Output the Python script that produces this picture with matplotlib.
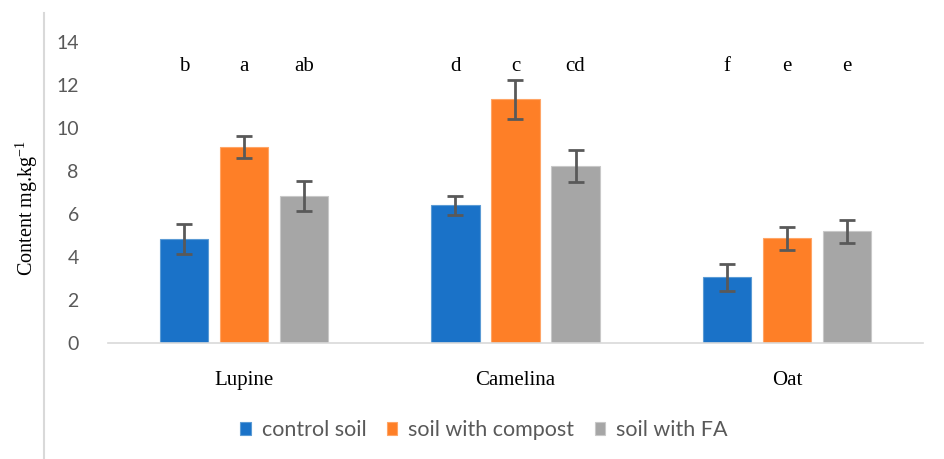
import numpy as np
import matplotlib.pyplot as plt
from matplotlib.lines import Line2D

# crop content, three soil treatments
crops = ["Lupine", "Camelina", "Oat"]
series = ["control soil", "soil with compost", "soil with FA"]

control = [4.82, 6.40, 3.05]
compost = [9.12, 11.33, 4.87]
fa = [6.84, 8.23, 5.19]

control_err = [0.70, 0.43, 0.62]
compost_err = [0.50, 0.90, 0.54]
fa_err = [0.70, 0.75, 0.53]

letters = [["b", "a", "ab"], ["d", "c", "cd"], ["f", "e", "e"]]

colors = ["#1A72C8", "#FE7F27", "#A6A6A6"]
edges = ["#5B9BD5", "#FFA566", "#C8C8C8"]

fig = plt.figure(figsize=(9.45, 4.59), dpi=100)
ax = fig.add_axes([0.1143, 0.2527, 0.8624, 0.6558])

x = np.arange(len(crops))
step = 0.221
width = 0.177
values = [control, compost, fa]
errs = [control_err, compost_err, fa_err]

for i in range(3):
    ax.bar(x + (i - 1) * step, values[i], width, color=colors[i],
           edgecolor=edges[i], linewidth=0.8, label=series[i], zorder=2)
    ax.errorbar(x + (i - 1) * step, values[i], yerr=errs[i], fmt="none",
                ecolor="#595959", elinewidth=2, capsize=6, capthick=2, zorder=3)

for g in range(len(crops)):
    for i in range(3):
        ax.text(x[g] + (i - 1) * step, 12.85, letters[g][i], ha="center", va="center",
                fontsize=15, family="Liberation Serif", color="black")

ax.set_xlim(-0.5, 2.5)
ax.set_ylim(0, 14)
ax.set_yticks(range(0, 15, 2))
ax.set_xticks(x)
ax.set_xticklabels(crops, family="Liberation Serif", fontsize=15)
for lab in ax.get_yticklabels():
    lab.set_family("Lato")
    lab.set_fontsize(14)
    lab.set_color("#595959")
ax.tick_params(axis="both", length=0)
ax.tick_params(axis="x", pad=20)
ax.tick_params(axis="y", pad=21)
for s in ["top", "right", "left"]:
    ax.spines[s].set_visible(False)
ax.spines["bottom"].set_color("#D9D9D9")
ax.spines["bottom"].set_linewidth(1.2)

fig.text(0.0286, 0.547, r"Content mg.kg$^{\mathregular{-1}}$", rotation=90, ha="center",
         va="center", fontsize=14.5, family="Liberation Serif")

leg = ax.legend(loc="center", bbox_to_anchor=(0.512, 0.063), bbox_transform=fig.transFigure,
                ncol=3, frameon=False, handlelength=0.5, handleheight=0.5,
                handletextpad=0.5, columnspacing=0.95, prop={"family": "Lato", "size": 15.5})
for t in leg.get_texts():
    t.set_color("#595959")

fig.add_artist(Line2D([0.0466, 0.0466], [0.0, 0.972], color="#D9D9D9", linewidth=1.5,
                      transform=fig.transFigure))

fig.savefig("out.png", dpi=100)
